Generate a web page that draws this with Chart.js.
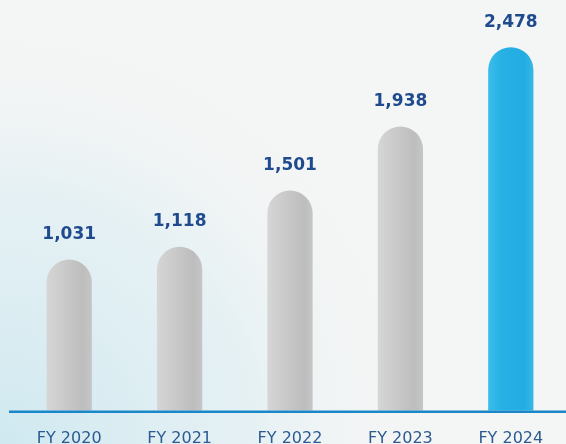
<!DOCTYPE html>
<html>
<head>
<meta charset="utf-8">
<script src="https://cdn.jsdelivr.net/npm/chart.js@4/dist/chart.umd.min.js"></script>
<style>
  html, body { margin: 0; padding: 0; background: #f4f5f5; }
  #wrap { width: 566px; height: 444px; }
</style>
</head>
<body>
<div id="wrap"><canvas id="chart" width="566" height="444"></canvas></div>
<script>
const years = ["FY 2020", "FY 2021", "FY 2022", "FY 2023", "FY 2024"];
const values = [1031, 1118, 1501, 1938, 2478];
const valueLabels = ["1,031", "1,118", "1,501", "1,938", "2,478"];

const labelBlue = "#1f4b8e";

// pale background, light blue toward lower left
const backgroundPlugin = {
  id: "bg",
  beforeDraw(chart) {
    const c = chart.ctx;
    c.save();
    c.fillStyle = "#f4f5f5";
    c.fillRect(0, 0, chart.width, chart.height);
    const g = c.createRadialGradient(0, chart.height, 10, 0, chart.height, 420);
    g.addColorStop(0, "rgba(206,232,240,0.95)");
    g.addColorStop(0.6, "rgba(220,238,243,0.6)");
    g.addColorStop(1, "rgba(244,245,245,0)");
    c.fillStyle = g;
    c.fillRect(0, 0, chart.width, chart.height);
    c.restore();
  },
};

// blue baseline and value labels
const overlayPlugin = {
  id: "overlay",
  afterDatasetsDraw(chart) {
    const c = chart.ctx;
    const y0 = chart.scales.y.getPixelForValue(0);
    c.save();
    c.strokeStyle = "#1a87c9";
    c.lineWidth = 2.5;
    c.beginPath();
    c.moveTo(9, y0 + 1);
    c.lineTo(chart.width, y0 + 1);
    c.stroke();

    c.fillStyle = labelBlue;
    c.font = "bold 17px 'DejaVu Sans'";
    c.textAlign = "center";
    c.textBaseline = "middle";
    chart.getDatasetMeta(0).data.forEach((bar, i) => {
      c.fillText(valueLabels[i], bar.x, bar.y - 25);
    });
    c.restore();
  },
};

function barFill(ctx) {
  const chart = ctx.chart;
  if (!chart.chartArea) return "#c4c4c4";
  const x = chart.scales.x.getPixelForValue(ctx.dataIndex);
  const g = chart.ctx.createLinearGradient(x - 23, 0, x + 23, 0);
  if (ctx.dataIndex === values.length - 1) {
    g.addColorStop(0, "#3cbdea");
    g.addColorStop(0.3, "#26b0e4");
    g.addColorStop(0.8, "#23ace2");
    g.addColorStop(1, "#3ab8e6");
  } else {
    g.addColorStop(0, "#d6d6d6");
    g.addColorStop(0.35, "#cbcbcb");
    g.addColorStop(0.8, "#bdbdbd");
    g.addColorStop(1, "#c6c6c6");
  }
  return g;
}

new Chart(document.getElementById("chart"), {
  type: "bar",
  data: {
    labels: years,
    datasets: [
      {
        data: values,
        backgroundColor: barFill,
        borderWidth: 0,
        borderRadius: { topLeft: 23, topRight: 23, bottomLeft: 0, bottomRight: 0 },
        borderSkipped: "bottom",
        barPercentage: 0.41,
        categoryPercentage: 1,
      },
    ],
  },
  options: {
    responsive: false,
    animation: false,
    layout: { padding: { left: 14, right: 0, top: 0, bottom: -22 } },
    plugins: {
      legend: { display: false },
      tooltip: { enabled: false },
    },
    scales: {
      y: { display: false, min: 0, max: 2800 },
      x: {
        grid: { display: false, drawTicks: false },
        border: { display: false },
        ticks: {
          color: "#2b5b92",
          font: { family: "'DejaVu Sans'", size: 16 },
          padding: 18,
        },
      },
    },
  },
  plugins: [backgroundPlugin, overlayPlugin],
});
</script>
</body>
</html>
